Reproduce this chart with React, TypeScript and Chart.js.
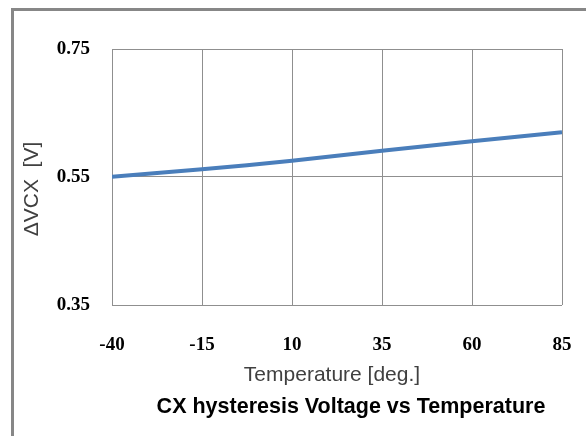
import React, { useEffect, useRef } from "react";
import { Chart, registerables } from "chart.js";

Chart.register(...registerables);

const temperatures = [-40, -15, 10, 35, 60, 85];
const hysteresisVoltage = [0.5505, 0.562, 0.5755, 0.591, 0.606, 0.62];
const xTicks = [-40, -15, 10, 35, 60, 85];
const yTicks = [0.35, 0.55, 0.75];
const chartTitle = "CX hysteresis Voltage vs Temperature";
const xAxisTitle = "Temperature [deg.]";
const yAxisTitle = "ΔVCX  [V]";

const textPlugin = {
  id: "textPlugin",
  beforeDraw(chart: any) {
    const ctx = chart.ctx;
    ctx.save();
    ctx.strokeStyle = "#878787";
    ctx.lineWidth = 3;
    ctx.beginPath();
    ctx.moveTo(12.5, 436);
    ctx.lineTo(12.5, 9.5);
    ctx.lineTo(586, 9.5);
    ctx.stroke();
    ctx.restore();
  },
  afterDraw(chart: any) {
    const ctx = chart.ctx;
    const a = chart.chartArea;
    const cx = a.left + (a.right - a.left) / 2;
    ctx.save();
    ctx.fillStyle = "#404040";
    ctx.textAlign = "center";
    ctx.textBaseline = "middle";
    ctx.font = "21px 'Liberation Sans', Arial, sans-serif";
    ctx.fillText(xAxisTitle, cx - 5, a.bottom + 70);
    ctx.fillStyle = "#000000";
    ctx.font = "bold 21.5px 'Liberation Sans', Arial, sans-serif";
    ctx.fillText(chartTitle, cx + 14, a.bottom + 102);
    ctx.fillStyle = "#404040";
    ctx.font = "21px 'Liberation Sans', Arial, sans-serif";
    ctx.translate(32, a.top + (a.bottom - a.top) / 2 + 12);
    ctx.rotate(-Math.PI / 2);
    ctx.fillText(yAxisTitle, 0, 0);
    ctx.restore();
  },
};

export default function App() {
  const ref = useRef<HTMLCanvasElement>(null);
  useEffect(() => {
    if (!ref.current) return;
    const chart = new Chart(ref.current, {
      type: "line",
      data: {
        datasets: [
          {
            data: temperatures.map((t, i) => ({ x: t, y: hysteresisVoltage[i] })),
            borderColor: "#4a7ebb",
            borderWidth: 4,
            pointRadius: 0,
            tension: 0.3,
            fill: false,
          },
        ],
      },
      options: {
        animation: false,
        responsive: false,
        maintainAspectRatio: false,
        layout: { padding: { left: 0, top: 49, right: 24, bottom: 0 } },
        plugins: { legend: { display: false }, tooltip: { enabled: false }, title: { display: false } },
        scales: {
          x: {
            type: "linear",
            min: -40,
            max: 85,
            afterBuildTicks: (s: any) => {
              s.ticks = xTicks.map((v) => ({ value: v }));
            },
            afterFit: (s: any) => {
              s.height = 131;
              s.paddingLeft = 0;
              s.paddingRight = 0;
            },
            grid: { color: "#8f8f8f", lineWidth: 1, drawTicks: false },
            border: { display: false },
            ticks: {
              padding: 29,
              color: "#000",
              font: { family: "'Liberation Serif', serif", size: 19, weight: "bold" },
              callback: (v: any) => String(v),
            },
          },
          y: {
            type: "linear",
            min: 0.35,
            max: 0.75,
            afterBuildTicks: (s: any) => {
              s.ticks = yTicks.map((v) => ({ value: v }));
            },
            afterFit: (s: any) => {
              s.width = 112;
              s.paddingTop = 0;
              s.paddingBottom = 0;
            },
            grid: { color: "#8f8f8f", lineWidth: 1, drawTicks: false },
            border: { display: false },
            ticks: {
              padding: 22,
              color: "#000",
              font: { family: "'Liberation Serif', serif", size: 19, weight: "bold" },
              callback: (v: any) => Number(v).toFixed(2),
            },
          },
        },
      },
      plugins: [textPlugin],
    });
    return () => chart.destroy();
  }, []);
  return (
    <div style={{ position: "fixed", left: 0, top: 0, width: 586, height: 436, background: "#fff" }}>
      <canvas ref={ref} width={586} height={436} style={{ width: 586, height: 436, display: "block" }} />
    </div>
  );
}
